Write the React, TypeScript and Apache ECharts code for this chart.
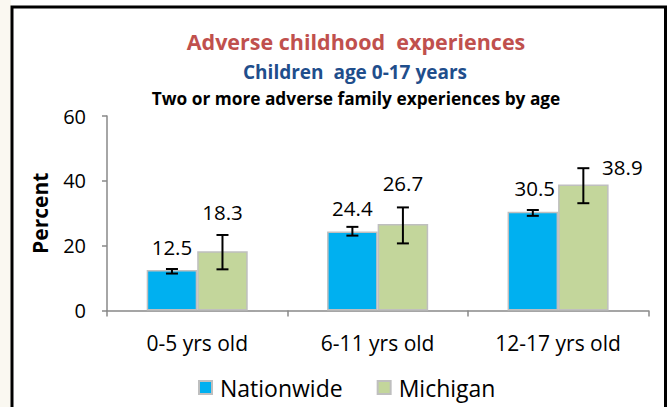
import React, { useEffect, useRef } from "react";
import * as echarts from "echarts";

const categories = ["0-5 yrs old", "6-11 yrs old", "12-17 yrs old"];
const nationwide = [12.5, 24.4, 30.5];
const michigan = [18.3, 26.7, 38.9];
const nationwideLow = [11.4, 23.1, 29.2];
const nationwideHigh = [12.8, 25.8, 31.0];
const michiganLow = [12.7, 20.7, 33.1];
const michiganHigh = [23.3, 31.8, 43.9];
const yTicks = [0, 20, 40, 60];

const titleMain = "Adverse childhood  experiences";
const titleSub = "Children  age 0-17 years";
const titleThird = "Two or more adverse family experiences by age";

const FONT = "'Open Sans', 'Noto Sans', sans-serif";
const BAR_FRACTION = 0.28;

// label nudges [x, y] relative to default 'top' position
const nationwideLabelNudge = [[0, -7], [0, -8], [2, -8]];
const michiganLabelNudge = [[0, -24], [0, -25], [39, -2]];

function errorSeries(name: string, low: number[], high: number[], side: number) {
  return {
    type: "custom",
    name: name + " CI",
    silent: true,
    z: 5,
    encode: { x: 0, y: [1, 2] },
    data: categories.map((_, i) => [i, low[i], high[i]]),
    renderItem: (params: any, api: any) => {
      const i = api.value(0);
      const lo = api.coord([i, api.value(1)]);
      const hi = api.coord([i, api.value(2)]);
      const bw = api.size([1, 0])[0] * BAR_FRACTION;
      const x = lo[0] + (side * bw) / 2;
      const cap = 6;
      const style = { stroke: "#000", lineWidth: 2 };
      return {
        type: "group",
        children: [
          { type: "line", shape: { x1: x, y1: lo[1], x2: x, y2: hi[1] }, style },
          { type: "line", shape: { x1: x - cap, y1: lo[1], x2: x + cap, y2: lo[1] }, style },
          { type: "line", shape: { x1: x - cap, y1: hi[1], x2: x + cap, y2: hi[1] }, style },
        ],
      };
    },
  };
}

export default function App() {
  const ref = useRef<HTMLDivElement>(null);
  useEffect(() => {
    const chart = echarts.init(ref.current!, undefined, { renderer: "svg" });
    const labelBase = {
      show: true,
      position: "top",
      distance: 5,
      color: "#000",
      fontFamily: FONT,
      fontSize: 20.5,
      formatter: (p: any) => p.value.toFixed(1),
    };
    chart.setOption({
      animation: false,
      backgroundColor: "#ffffff",
      textStyle: { fontFamily: FONT },
      graphic: [
        { type: "rect", shape: { x: 0, y: 0, width: 11, height: 407 }, style: { fill: "#FAF8F1" }, silent: true },
        {
          type: "rect",
          shape: { x: 12, y: 7, width: 653.5, height: 430 },
          style: { fill: "none", stroke: "#000", lineWidth: 3 },
          silent: true,
        },
        {
          type: "text",
          x: 356,
          y: 41,
          style: { text: titleMain, align: "center", verticalAlign: "middle", fill: "#C0504D", font: `bold 21.5px ${FONT}` },
        },
        {
          type: "text",
          x: 355,
          y: 72,
          style: { text: titleSub, align: "center", verticalAlign: "middle", fill: "#1F4E8C", font: `bold 19px ${FONT}` },
        },
        {
          type: "text",
          x: 356,
          y: 98,
          style: { text: titleThird, align: "center", verticalAlign: "middle", fill: "#000", font: `bold 17.3px ${FONT}` },
        },
      ],
      grid: { left: 107, right: 22.7, top: 116, bottom: 96.5 },
      legend: {
        left: 198,
        top: 376,
        padding: 0,
        itemWidth: 13,
        itemHeight: 13,
        itemGap: 34,
        icon: "rect",
        textStyle: { fontFamily: FONT, fontSize: 23, color: "#000", padding: [0, 0, 0, 3] },
        data: ["Nationwide", "Michigan"],
      },
      xAxis: {
        type: "category",
        data: categories,
        axisLine: { lineStyle: { color: "#888", width: 1.5 } },
        axisTick: { show: true, length: 6, lineStyle: { color: "#888", width: 1.5 } },
        axisLabel: { color: "#000", fontFamily: FONT, fontSize: 21, margin: 22 },
      },
      yAxis: {
        type: "value",
        min: yTicks[0],
        max: yTicks[yTicks.length - 1],
        interval: yTicks[1] - yTicks[0],
        name: "Percent",
        nameLocation: "middle",
        nameGap: 57,
        nameTextStyle: { fontFamily: FONT, fontSize: 21, fontWeight: "bold", color: "#000" },
        splitLine: { show: false },
        axisLine: { show: true, lineStyle: { color: "#888", width: 1.5 } },
        axisTick: { show: true, length: 5, lineStyle: { color: "#888", width: 1.5 } },
        axisLabel: { color: "#000", fontFamily: FONT, fontSize: 20, margin: 21 },
      },
      series: [
        {
          name: "Nationwide",
          type: "bar",
          barWidth: `${BAR_FRACTION * 100}%`,
          barGap: "0%",
          itemStyle: { color: "#00B0F0", borderColor: "#BFBFBF", borderWidth: 1.5 },
          label: labelBase,
          data: nationwide.map((v, i) => ({ value: v, label: { offset: nationwideLabelNudge[i] } })),
        },
        {
          name: "Michigan",
          type: "bar",
          barWidth: `${BAR_FRACTION * 100}%`,
          barGap: "0%",
          itemStyle: { color: "#C3D69B", borderColor: "#BFBFBF", borderWidth: 1.5 },
          label: labelBase,
          data: michigan.map((v, i) => ({ value: v, label: { offset: michiganLabelNudge[i] } })),
        },
        errorSeries("Nationwide", nationwideLow, nationwideHigh, -1),
        errorSeries("Michigan", michiganLow, michiganHigh, 1),
      ],
    });
    return () => chart.dispose();
  }, []);
  return (
    <div style={{ position: "fixed", left: 0, top: 0, width: 671, height: 407, background: "#fff" }}>
      <div ref={ref} style={{ width: 671, height: 407 }} />
    </div>
  );
}
